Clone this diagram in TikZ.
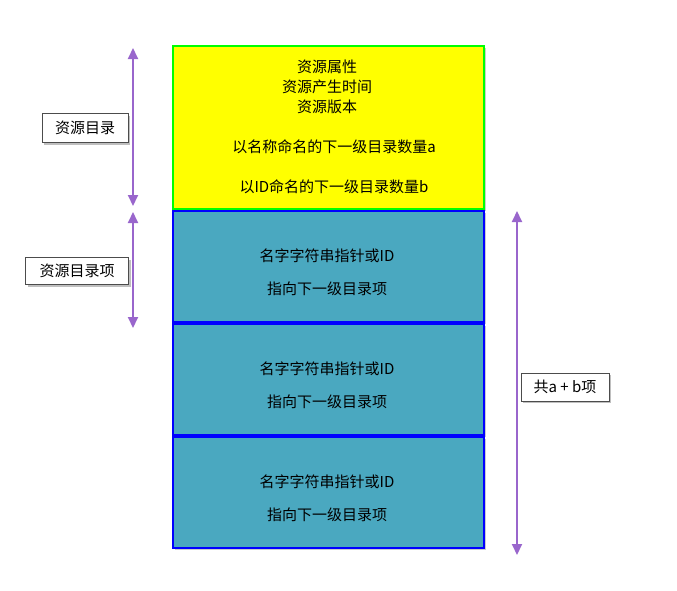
\documentclass[tikz,border=0pt]{standalone}
\usepackage{fontspec}
\newfontfamily\cjk{Noto Sans CJK SC}
\usetikzlibrary{shadows,arrows.meta}
\definecolor{tealf}{HTML}{4AA8C0}
\definecolor{purp}{HTML}{9966CC}
\definecolor{yel}{HTML}{FFFF00}
\tikzset{
  every node/.style={font=\cjk\fontsize{15}{18}\selectfont},
  ybox/.style={draw=green,line width=2pt,fill=yel,drop shadow={opacity=0.4}},
  bbox/.style={draw=blue,line width=2.2pt,fill=tealf,drop shadow={opacity=0.4}},
  lbl/.style={draw=black!70,fill=white,inner sep=3pt,drop shadow={opacity=0.5,shadow xshift=2pt,shadow yshift=-2pt}},
  parr/.style={purp,line width=2pt,{Triangle[length=11pt,width=10pt]}-{Triangle[length=11pt,width=10pt]}}
}
\begin{document}
\begin{tikzpicture}[x=1pt,y=-1pt]
\useasboundingbox (0,0) rectangle (677,590);
\node[ybox,minimum width=311,minimum height=163,anchor=north west] (res) at (172,45) {};
\node (t1) at (327,67) {资源属性};
\node (t2) at (327,87) {资源产生时间};
\node (t3) at (327,107) {资源版本};
\node (t4) at (334,147) {以名称命名的下一级目录数量a};
\node (t5) at (334,187) {以ID命名的下一级目录数量b};
\foreach \i/\y in {1/210,2/323,3/436}{
  \node[bbox,minimum width=311,minimum height=111,anchor=north west] (e\i) at (172,\y) {};
  \node (n\i) at (327,\y+46) {名字字符串指针或ID};
  \node (d\i) at (327,\y+79) {指向下一级目录项};
}
\coordinate (a1) at (133,48); \coordinate (a2) at (133,206);
\coordinate (b1) at (133,212); \coordinate (b2) at (133,328);
\coordinate (c1) at (517,211); \coordinate (c2) at (517,555);
\draw[parr] (a1) -- (a2);
\draw[parr] (b1) -- (b2);
\draw[parr] (c1) -- (c2);
\node[lbl,minimum width=86,minimum height=29] (L1) at (85,128) {资源目录};
\node[lbl,minimum width=103,minimum height=27] (L2) at (77,271) {资源目录项};
\node[lbl,minimum width=88,minimum height=28] (L3) at (565,387) {共a + b项};
\end{tikzpicture}
\end{document}
